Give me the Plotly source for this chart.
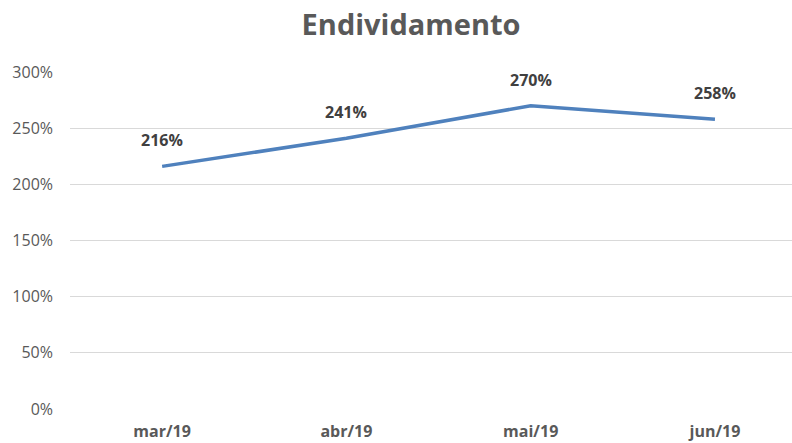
import plotly.graph_objects as go

categories = ["mar/19", "abr/19", "mai/19", "jun/19"]
values = [2.16, 2.41, 2.70, 2.58]
labels = ["216%", "241%", "270%", "258%"]
y_ticks = [0, 0.5, 1.0, 1.5, 2.0, 2.5, 3.0]
y_ticklabels = ["0%", "50%", "100%", "150%", "200%", "250%", "300%"]

FONT = "Open Sans"
fig = go.Figure()
fig.add_trace(go.Scatter(
    x=categories, y=values, mode="lines",
    line=dict(color="#4f81bd", width=3.5),
    hoverinfo="skip", showlegend=False,
))
for c, v, t in zip(categories, values, labels):
    fig.add_annotation(x=c, y=v, text=t, showarrow=False, yshift=26,
                       font=dict(family=FONT, size=16, color="#404040", weight="bold"))

fig.update_layout(
    width=792, height=443,
    margin=dict(l=70, r=0, t=72, b=34, autoexpand=False),
    paper_bgcolor="white", plot_bgcolor="white",
    title=dict(text="<b>Endividamento</b>", x=0.519, xanchor="center", y=0.943, yanchor="middle",
               font=dict(family=FONT, size=29, color="#595959")),
    xaxis=dict(range=[-0.5, 3.418], showgrid=False, showline=False, zeroline=False,
               ticks="", automargin=False,
               tickfont=dict(family=FONT, size=16, color="#595959", weight="bold"),
               ticklabelstandoff=11),
    yaxis=dict(range=[0, 3.0], tickvals=y_ticks, ticktext=y_ticklabels,
               showgrid=True, gridcolor="#d9d9d9", gridwidth=1, zeroline=False,
               showline=False, ticks="", ticklabelstandoff=16, automargin=False,
               tickfont=dict(family=FONT, size=16, color="#595959")),
)
fig.write_html("out.html", config={"displayModeBar": False},
               post_script="document.body.style.margin='0';")
